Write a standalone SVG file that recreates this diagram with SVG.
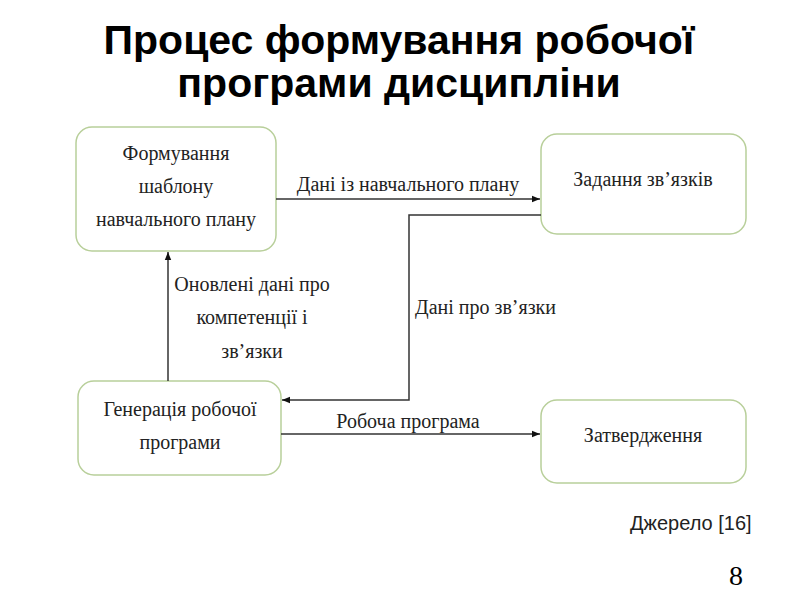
<svg xmlns="http://www.w3.org/2000/svg" width="800" height="600" viewBox="0 0 800 600">
<defs>
<style>
.box{fill:#fff;stroke:#b8cf9a;stroke-width:1.5}
.bt{font-family:"Liberation Serif",serif;font-size:20px;fill:#222;text-anchor:middle}
.lt{font-family:"Liberation Serif",serif;font-size:20px;fill:#222}
.ln{fill:none;stroke:#333;stroke-width:1.5}
.title{font-family:"Liberation Sans",Arial,sans-serif;font-size:41px;font-weight:bold;fill:#000;text-anchor:middle}
</style>
<marker id="ah" viewBox="0 0 10 10" refX="10" refY="5" markerWidth="8" markerHeight="8" markerUnits="userSpaceOnUse" orient="auto">
<path d="M0,1 L10,5 L0,9 z" fill="#111"/>
</marker>
</defs>
<rect width="800" height="600" fill="#fff"/>
<text class="title" x="399" y="54">Процес формування робочої</text>
<text class="title" x="399" y="97">програми дисципліни</text>
<g id="n1">
<rect class="box" x="76" y="127" width="200" height="124" rx="16"/>
<text class="bt" x="176" y="160">Формування</text>
<text class="bt" x="176" y="193">шаблону</text>
<text class="bt" x="176" y="226">навчального плану</text>
</g>
<g id="n2">
<rect class="box" x="541" y="134" width="205" height="100" rx="16"/>
<text class="bt" x="643" y="186">Задання зв’язків</text>
</g>
<g id="n3">
<rect class="box" x="78" y="381" width="203" height="94" rx="16"/>
<text class="bt" x="180" y="416">Генерація робочої</text>
<text class="bt" x="180" y="449">програми</text>
</g>
<g id="n4">
<rect class="box" x="541" y="400" width="205" height="83" rx="16"/>
<text class="bt" x="643" y="442">Затвердження</text>
</g>
<g id="edges">
<path class="ln" d="M276,199 H540" marker-end="url(#ah)"/>
<text class="bt" x="408" y="191">Дані із навчального плану</text>
<path class="ln" d="M541,215 H409 V400 H282" marker-end="url(#ah)"/>
<text class="lt" x="415" y="314">Дані про зв’язки</text>
<path class="ln" d="M168,381 V252" marker-end="url(#ah)"/>
<text class="bt" x="252" y="291">Оновлені дані про</text>
<text class="bt" x="252" y="324">компетенції і</text>
<text class="bt" x="252" y="358">зв’язки</text>
<path class="ln" d="M281,434 H540" marker-end="url(#ah)"/>
<text class="bt" x="408" y="428">Робоча програма</text>
</g>
<text x="630" y="530" font-family="Liberation Sans,Arial,sans-serif" font-size="20" fill="#222">Джерело [16]</text>
<text x="736" y="585" font-family="Liberation Serif,serif" font-size="28" fill="#000" text-anchor="middle">8</text>
</svg>
